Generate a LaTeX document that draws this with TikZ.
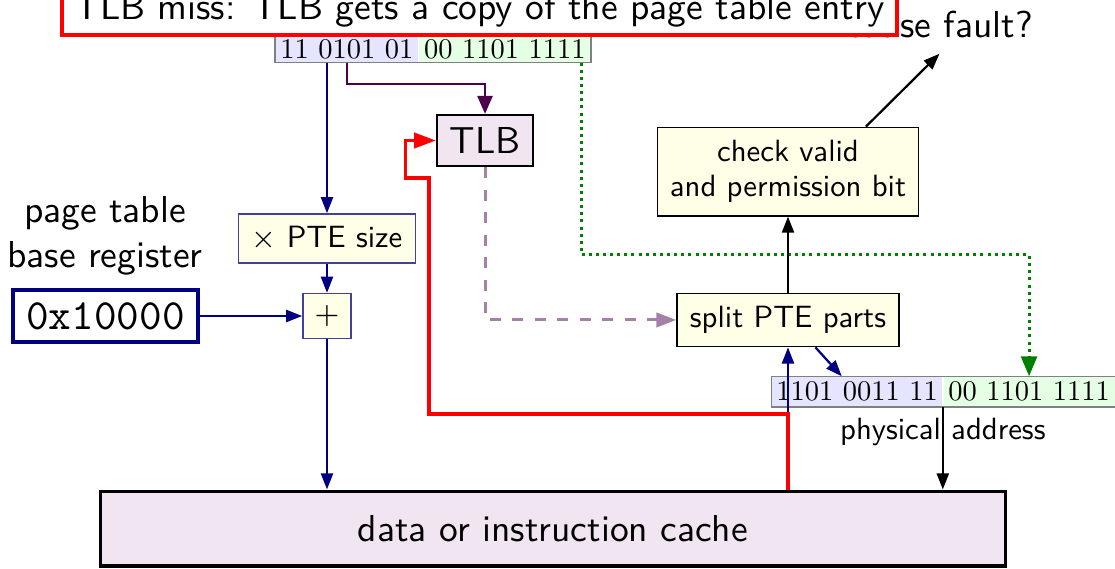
\documentclass[tikz,border=0pt]{standalone}
\usepackage{fontspec}
\usepackage{amsmath}
\setsansfont{lmsans10-regular}[Extension=.otf]
\setmonofont{lmmono10-regular}[Extension=.otf]
\newfontfamily\bitsfont{lmroman10-regular}[Extension=.otf]
\usetikzlibrary{arrows.meta,positioning}
\renewcommand{\familydefault}{\sfdefault}
\colorlet{navy}{blue!50!black}
\colorlet{tlbline}{violet!60!black}
\colorlet{hitline}{violet!60!black!50}
\tikzset{
  smalltext/.style={font=\fontsize{8.2}{9.2}\selectfont},
  bitstext/.style={font=\bitsfont\fontsize{7.6}{8}\selectfont,inner sep=0pt},
  stepbox/.style={draw=navy!75,fill=yellow!10,smalltext,inner sep=1pt},
  workbox/.style={draw,fill=yellow!10,smalltext,inner sep=1pt,align=center},
  arrowtip/.style={-{Triangle[length=4.3pt,width=3.2pt]}},
  navyarr/.style={arrowtip,navy,semithick},
}

\begin{document}
\begin{tikzpicture}
  \clip (0,0) rectangle (10.451,5.324);
  % virtual address
  \node[bitstext,fill=blue!10,minimum width=1.331cm,minimum height=0.234cm] (vaL) at (3.252,4.860) {11 0101 01};
  \node[bitstext,fill=green!10,minimum width=1.603cm,minimum height=0.234cm,right=0pt of vaL] (vaR) {00 1101 1111};
  \draw[gray] (vaL.north west) rectangle (vaR.south east);
  % physical address
  \node[bitstext,fill=blue!10,minimum width=1.594cm,minimum height=0.272cm] (paL) at (8.033,1.654) {1101 0011 11};
  \node[bitstext,fill=green!10,minimum width=1.603cm,minimum height=0.272cm,right=0pt of paL] (paR) {00 1101 1111};
  \draw[gray] (paL.north west) rectangle (paR.south east);

  \node[draw,line width=0.9pt,fill=violet!10,minimum width=8.48cm,minimum height=0.70cm] (cache) at (5.183,0.370) {data or instruction cache};
  \node[draw,semithick,fill=violet!10,minimum width=0.88cm,minimum height=0.46cm] (tlb) at (4.546,4.007) {TLB};
  \node[stepbox,minimum width=1.66cm,minimum height=0.46cm] (ptesize) at (3.065,3.088) {$\times$ PTE size};
  \node[stepbox,minimum width=0.45cm,minimum height=0.42cm] (plus) at (3.065,2.362) {$+$};
  \node[draw=navy,line width=1pt,font=\ttfamily\fontsize{11.5}{13}\selectfont,minimum width=1.73cm,minimum height=0.47cm] (reg) at (0.989,2.362) {0x10000};
  \node[align=center,font=\fontsize{10}{12}\selectfont] (ptbr) at (0.984,3.112) {page table\\base register};
  \node[workbox,minimum width=2.08cm,minimum height=0.50cm] (split) at (7.386,2.325) {split PTE parts};
  \node[workbox,minimum width=2.45cm,minimum height=0.83cm] (check) at (7.386,3.716) {check valid\\and permission bit};
  \node[anchor=base,inner ysep=4pt] (fault) at (8.806,4.972) {cause fault?};

  % page table lookup
  \draw[navyarr] (vaL.south -| ptesize.north) -- (ptesize);
  \draw[navyarr] (ptesize) -- (plus);
  \draw[navyarr] (reg) -- (plus);
  \draw[navyarr] (plus) -- (plus |- cache.north);
  \draw[navyarr] (split.south |- cache.north) -- (split.south);
  \draw[navyarr] (split.-45) -- (paL.135);
  % TLB
  \draw[-{Triangle[length=4.8pt,width=4pt]},tlbline,line width=0.7pt] (vaL.south) -- ++(0,-0.2) -| (tlb.north);
  \draw[-{Triangle[length=5.3pt,width=3.8pt]},hitline,thick,dashed] (tlb.south) |- (split.west);
  \draw[-{Triangle[length=5.8pt,width=4pt]},red,line width=1pt] (split.south |- cache.north) -- ++(0,0.71) -| (4.02,3.655) -- (3.80,3.655) |- (tlb.west);
  % page offset
  \draw[-{Triangle[length=5.3pt,width=4.2pt]},green!50!black,thick,dash pattern=on 0.8pt off 1.1pt] ([xshift=-0.094cm]vaR.south east) -- ++(0,-1.80) -| (paR.north);
  \draw[arrowtip,semithick] (paL.south east) -- (paL.south east |- cache.north) node[pos=0.3,smalltext] {physical address};
  \draw[arrowtip,semithick] (split) -- (check);
  \draw[arrowtip,semithick] (check.30) -- (fault.south);

  \node[draw=red,line width=1.2pt,fill=white,anchor=south,minimum width=7.8cm,inner ysep=2pt] (miss) at (4.494,4.977) {TLB miss: TLB gets a copy of the page table entry};
\end{tikzpicture}
\end{document}
